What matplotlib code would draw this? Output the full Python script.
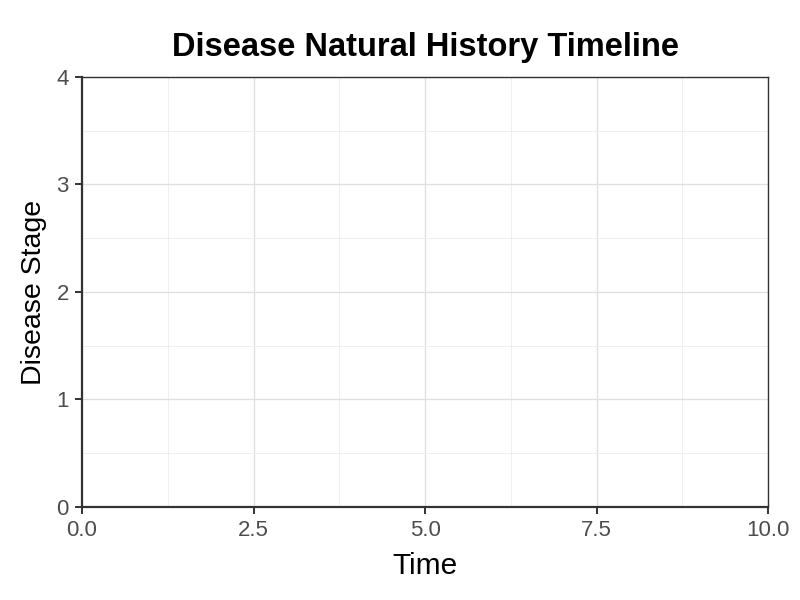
import numpy as np
import matplotlib
matplotlib.use("Agg")
import matplotlib.pyplot as plt
from matplotlib.ticker import MultipleLocator

plt.rcParams["font.family"] = ["Liberation Sans", "DejaVu Sans"]

# the reference panel is empty: no stages plotted yet
time = []
stage = []

x_ticks = [0.0, 2.5, 5.0, 7.5, 10.0]
x_labels = ["0.0", "2.5", "5.0", "7.5", "10.0"]
y_ticks = [0, 1, 2, 3, 4]
y_labels = ["0", "1", "2", "3", "4"]

fig = plt.figure(figsize=(8, 6), dpi=100)
ax = fig.add_axes([0.1025, 0.155, 0.8575, 0.7167])

ax.plot(time, stage, color="black")

ax.set_xlim(0, 10)
ax.set_ylim(0, 4)
ax.set_xticks(x_ticks)
ax.set_xticklabels(x_labels)
ax.set_yticks(y_ticks)
ax.set_yticklabels(y_labels)
ax.xaxis.set_minor_locator(MultipleLocator(1.25))
ax.yaxis.set_minor_locator(MultipleLocator(0.5))

ax.grid(which="major", color="#dedede", linewidth=0.9)
ax.grid(which="minor", color="#ededed", linewidth=0.6)
ax.set_axisbelow(True)

for side in ["left", "bottom"]:
    ax.spines[side].set_color("#333333")
    ax.spines[side].set_linewidth(1.6)
for side in ["top", "right"]:
    ax.spines[side].set_color("#333333")
    ax.spines[side].set_linewidth(1.0)

ax.tick_params(which="major", length=5, width=1.4, color="#333333",
               labelsize=16, labelcolor="#4d4d4d")
ax.tick_params(axis="x", which="major", pad=4.5)
ax.tick_params(axis="y", which="major", pad=4.5)
ax.tick_params(which="minor", length=0)

ax.set_xlabel("Time", fontsize=21.5, labelpad=8)
ax.set_ylabel("Disease Stage", fontsize=20.5, labelpad=7)
ax.set_title("Disease Natural History Timeline", fontsize=23.5, fontweight="bold", pad=15)

plt.savefig("out.png", dpi=100)
plt.close()
